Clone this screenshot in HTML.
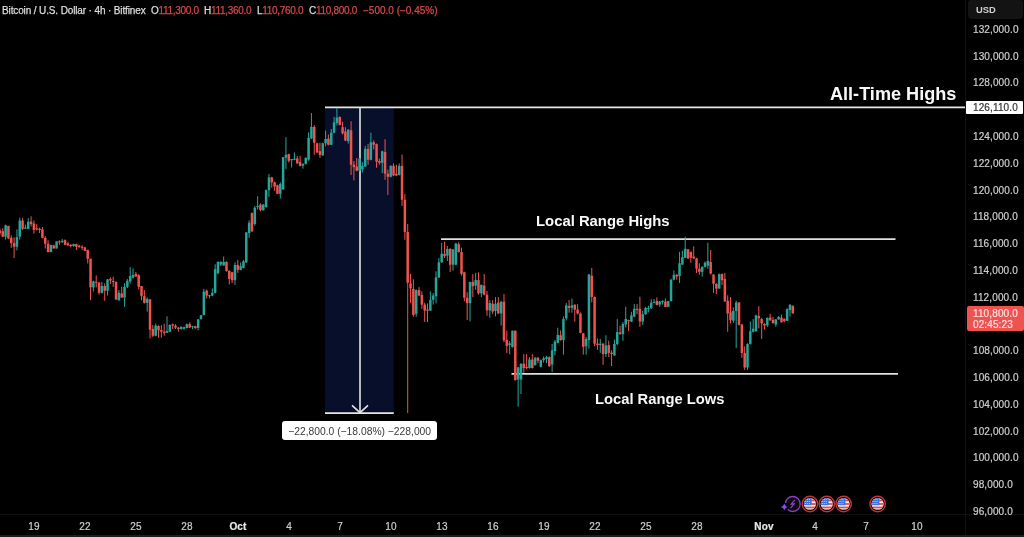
<!DOCTYPE html>
<html><head><meta charset="utf-8"><style>
*{margin:0;padding:0;box-sizing:border-box}
html,body{width:1024px;height:537px;overflow:hidden;background:#000}
body{position:relative;font-family:"Liberation Sans",sans-serif;color:#d1d4dc}
.abs{position:absolute}
.hdr,.pl,.tl,.big,.abs{will-change:transform}
.pl{position:absolute;left:973.2px;font-size:10px;line-height:12px;color:#cfcfcf;white-space:nowrap;letter-spacing:0.12px;-webkit-text-stroke:0.2px currentColor}
.tl{position:absolute;top:521px;width:40px;text-align:center;font-size:10px;line-height:12px;color:#cfcfcf;letter-spacing:0.15px;-webkit-text-stroke:0.2px currentColor}
.tl.b{font-weight:bold;color:#e8e8e8}
.hdr{position:absolute;top:4.8px;font-size:10px;line-height:12px;white-space:nowrap;letter-spacing:-0.3px;-webkit-text-stroke:0.25px currentColor;color:#dcdcdc}
.r{color:#d44848}
.big{position:absolute;font-weight:bold;color:#f8f8f8;white-space:nowrap}
</style></head><body>
<svg class="abs" style="left:0;top:0" width="1024" height="537" viewBox="0 0 1024 537">
<rect x="325" y="107.5" width="68.8" height="306" fill="#070f2a"/>
<line x1="325" y1="107.4" x2="965" y2="107.4" stroke="#e6e6e6" stroke-width="1.8"/>
<line x1="325" y1="413.2" x2="393.8" y2="413.2" stroke="#e6e6e6" stroke-width="1.8"/>
<line x1="360" y1="107.4" x2="360" y2="412.5" stroke="#d8d8d8" stroke-width="1.7"/>
<polyline points="352,405.4 360,412.6 368,405.4" fill="none" stroke="#e6e6e6" stroke-width="1.6"/>
<line x1="441" y1="239.1" x2="895.5" y2="239.1" stroke="#e0e0e0" stroke-width="1.8"/>
<line x1="511.5" y1="373.9" x2="898" y2="373.9" stroke="#e0e0e0" stroke-width="1.8"/>
<rect x="-0.56" y="228.5" width="1.0" height="6.5" fill="#ef5350"/>
<rect x="-1.31" y="230.6" width="2.5" height="2.4" fill="#ef5350"/>
<rect x="2.27" y="228.2" width="1.0" height="9.0" fill="#ef5350"/>
<rect x="1.52" y="231.2" width="2.5" height="5.4" fill="#ef5350"/>
<rect x="5.10" y="224.7" width="1.0" height="14.9" fill="#26a69a"/>
<rect x="4.35" y="225.3" width="2.5" height="11.3" fill="#26a69a"/>
<rect x="7.93" y="225.9" width="1.0" height="13.1" fill="#ef5350"/>
<rect x="7.18" y="225.9" width="2.5" height="12.5" fill="#ef5350"/>
<rect x="10.76" y="235.4" width="1.0" height="12.5" fill="#ef5350"/>
<rect x="10.01" y="237.8" width="2.5" height="5.3" fill="#ef5350"/>
<rect x="13.60" y="237.2" width="1.0" height="20.8" fill="#ef5350"/>
<rect x="12.85" y="243.1" width="2.5" height="3.6" fill="#ef5350"/>
<rect x="16.43" y="229.4" width="1.0" height="20.9" fill="#26a69a"/>
<rect x="15.68" y="237.2" width="2.5" height="9.5" fill="#26a69a"/>
<rect x="19.26" y="217.5" width="1.0" height="22.1" fill="#26a69a"/>
<rect x="18.51" y="220.5" width="2.5" height="16.1" fill="#26a69a"/>
<rect x="22.09" y="218.1" width="1.0" height="11.9" fill="#ef5350"/>
<rect x="21.34" y="220.5" width="2.5" height="8.3" fill="#ef5350"/>
<rect x="24.92" y="224.7" width="1.0" height="4.1" fill="#26a69a"/>
<rect x="24.17" y="227.6" width="2.5" height="1.2" fill="#26a69a"/>
<rect x="27.75" y="218.1" width="1.0" height="10.7" fill="#26a69a"/>
<rect x="27.00" y="221.7" width="2.5" height="7.1" fill="#26a69a"/>
<rect x="30.59" y="216.3" width="1.0" height="10.2" fill="#ef5350"/>
<rect x="29.84" y="221.7" width="2.5" height="2.4" fill="#ef5350"/>
<rect x="33.42" y="220.5" width="1.0" height="13.1" fill="#ef5350"/>
<rect x="32.67" y="223.5" width="2.5" height="6.5" fill="#ef5350"/>
<rect x="36.25" y="224.1" width="1.0" height="6.5" fill="#ef5350"/>
<rect x="35.50" y="228.2" width="2.5" height="1.2" fill="#ef5350"/>
<rect x="39.08" y="227.6" width="1.0" height="5.4" fill="#ef5350"/>
<rect x="38.33" y="228.8" width="2.5" height="1.2" fill="#ef5350"/>
<rect x="41.91" y="227.0" width="1.0" height="11.4" fill="#ef5350"/>
<rect x="41.16" y="229.4" width="2.5" height="8.4" fill="#ef5350"/>
<rect x="44.74" y="236.0" width="1.0" height="12.5" fill="#ef5350"/>
<rect x="43.99" y="237.8" width="2.5" height="5.9" fill="#ef5350"/>
<rect x="47.58" y="240.2" width="1.0" height="11.9" fill="#ef5350"/>
<rect x="46.83" y="243.7" width="2.5" height="8.4" fill="#ef5350"/>
<rect x="50.41" y="244.9" width="1.0" height="7.2" fill="#26a69a"/>
<rect x="49.66" y="244.9" width="2.5" height="7.2" fill="#26a69a"/>
<rect x="53.24" y="244.9" width="1.0" height="3.6" fill="#ef5350"/>
<rect x="52.49" y="245.5" width="2.5" height="3.0" fill="#ef5350"/>
<rect x="56.07" y="241.4" width="1.0" height="7.1" fill="#26a69a"/>
<rect x="55.32" y="241.4" width="2.5" height="7.1" fill="#26a69a"/>
<rect x="58.90" y="240.2" width="1.0" height="4.7" fill="#ef5350"/>
<rect x="58.15" y="241.4" width="2.5" height="1.1" fill="#ef5350"/>
<rect x="61.73" y="239.0" width="1.0" height="4.1" fill="#26a69a"/>
<rect x="60.98" y="240.8" width="2.5" height="1.2" fill="#26a69a"/>
<rect x="64.57" y="239.4" width="1.0" height="5.8" fill="#ef5350"/>
<rect x="63.82" y="240.1" width="2.5" height="4.7" fill="#ef5350"/>
<rect x="67.40" y="242.1" width="1.0" height="4.0" fill="#ef5350"/>
<rect x="66.65" y="243.4" width="2.5" height="1.8" fill="#ef5350"/>
<rect x="70.23" y="244.1" width="1.0" height="3.3" fill="#ef5350"/>
<rect x="69.48" y="244.8" width="2.5" height="1.3" fill="#ef5350"/>
<rect x="73.06" y="243.8" width="1.0" height="3.0" fill="#26a69a"/>
<rect x="72.31" y="244.1" width="2.5" height="2.0" fill="#26a69a"/>
<rect x="75.89" y="243.8" width="1.0" height="6.3" fill="#ef5350"/>
<rect x="75.14" y="244.1" width="2.5" height="2.7" fill="#ef5350"/>
<rect x="78.72" y="244.8" width="1.0" height="3.0" fill="#ef5350"/>
<rect x="77.97" y="245.7" width="2.5" height="1.3" fill="#ef5350"/>
<rect x="81.56" y="245.2" width="1.0" height="4.9" fill="#ef5350"/>
<rect x="80.81" y="246.8" width="2.5" height="1.0" fill="#ef5350"/>
<rect x="84.39" y="246.8" width="1.0" height="4.3" fill="#ef5350"/>
<rect x="83.64" y="247.4" width="2.5" height="3.4" fill="#ef5350"/>
<rect x="87.22" y="249.5" width="1.0" height="14.0" fill="#ef5350"/>
<rect x="86.47" y="250.1" width="2.5" height="8.7" fill="#ef5350"/>
<rect x="90.05" y="258.6" width="1.0" height="41.6" fill="#ef5350"/>
<rect x="89.30" y="258.8" width="2.5" height="28.6" fill="#ef5350"/>
<rect x="92.88" y="280.7" width="1.0" height="10.8" fill="#26a69a"/>
<rect x="92.13" y="281.4" width="2.5" height="6.0" fill="#26a69a"/>
<rect x="95.72" y="275.4" width="1.0" height="12.0" fill="#ef5350"/>
<rect x="94.97" y="281.8" width="2.5" height="1.0" fill="#ef5350"/>
<rect x="98.55" y="282.0" width="1.0" height="12.8" fill="#ef5350"/>
<rect x="97.80" y="282.7" width="2.5" height="10.1" fill="#ef5350"/>
<rect x="101.38" y="282.0" width="1.0" height="11.5" fill="#26a69a"/>
<rect x="100.63" y="286.0" width="2.5" height="6.8" fill="#26a69a"/>
<rect x="104.21" y="283.4" width="1.0" height="17.4" fill="#ef5350"/>
<rect x="103.46" y="286.0" width="2.5" height="4.8" fill="#ef5350"/>
<rect x="107.04" y="279.0" width="1.0" height="16.5" fill="#26a69a"/>
<rect x="106.29" y="279.4" width="2.5" height="11.4" fill="#26a69a"/>
<rect x="109.87" y="277.4" width="1.0" height="6.6" fill="#ef5350"/>
<rect x="109.12" y="279.0" width="2.5" height="1.5" fill="#ef5350"/>
<rect x="112.71" y="276.7" width="1.0" height="10.1" fill="#ef5350"/>
<rect x="111.96" y="281.0" width="2.5" height="1.0" fill="#ef5350"/>
<rect x="115.54" y="281.8" width="1.0" height="18.0" fill="#ef5350"/>
<rect x="114.79" y="281.8" width="2.5" height="17.7" fill="#ef5350"/>
<rect x="118.37" y="290.0" width="1.0" height="10.8" fill="#26a69a"/>
<rect x="117.62" y="292.8" width="2.5" height="7.4" fill="#26a69a"/>
<rect x="121.20" y="286.8" width="1.0" height="11.2" fill="#ef5350"/>
<rect x="120.45" y="293.5" width="2.5" height="4.0" fill="#ef5350"/>
<rect x="124.03" y="283.2" width="1.0" height="23.7" fill="#26a69a"/>
<rect x="123.28" y="286.8" width="2.5" height="10.7" fill="#26a69a"/>
<rect x="126.86" y="279.0" width="1.0" height="9.1" fill="#26a69a"/>
<rect x="126.11" y="280.7" width="2.5" height="6.1" fill="#26a69a"/>
<rect x="129.70" y="267.1" width="1.0" height="16.5" fill="#26a69a"/>
<rect x="128.95" y="276.0" width="2.5" height="5.4" fill="#26a69a"/>
<rect x="132.53" y="268.3" width="1.0" height="10.4" fill="#26a69a"/>
<rect x="131.78" y="275.0" width="2.5" height="2.5" fill="#26a69a"/>
<rect x="135.36" y="272.0" width="1.0" height="4.7" fill="#ef5350"/>
<rect x="134.61" y="274.0" width="2.5" height="2.5" fill="#ef5350"/>
<rect x="138.19" y="274.2" width="1.0" height="15.2" fill="#ef5350"/>
<rect x="137.44" y="275.2" width="2.5" height="11.6" fill="#ef5350"/>
<rect x="141.02" y="286.0" width="1.0" height="14.2" fill="#ef5350"/>
<rect x="140.27" y="286.1" width="2.5" height="10.0" fill="#ef5350"/>
<rect x="143.85" y="290.0" width="1.0" height="13.5" fill="#ef5350"/>
<rect x="143.10" y="296.1" width="2.5" height="6.8" fill="#ef5350"/>
<rect x="146.69" y="297.5" width="1.0" height="14.1" fill="#26a69a"/>
<rect x="145.94" y="298.8" width="2.5" height="4.1" fill="#26a69a"/>
<rect x="149.52" y="298.8" width="1.0" height="39.6" fill="#ef5350"/>
<rect x="148.77" y="299.5" width="2.5" height="30.2" fill="#ef5350"/>
<rect x="152.35" y="325.0" width="1.0" height="12.0" fill="#ef5350"/>
<rect x="151.60" y="329.0" width="2.5" height="6.7" fill="#ef5350"/>
<rect x="155.18" y="323.6" width="1.0" height="12.8" fill="#26a69a"/>
<rect x="154.43" y="325.6" width="2.5" height="10.1" fill="#26a69a"/>
<rect x="158.01" y="325.2" width="1.0" height="12.5" fill="#ef5350"/>
<rect x="157.26" y="326.0" width="2.5" height="4.3" fill="#ef5350"/>
<rect x="160.84" y="325.0" width="1.0" height="12.7" fill="#ef5350"/>
<rect x="160.09" y="330.0" width="2.5" height="1.7" fill="#ef5350"/>
<rect x="163.68" y="323.6" width="1.0" height="12.1" fill="#ef5350"/>
<rect x="162.93" y="331.7" width="2.5" height="1.3" fill="#ef5350"/>
<rect x="166.51" y="316.3" width="1.0" height="16.7" fill="#26a69a"/>
<rect x="165.76" y="331.0" width="2.5" height="1.8" fill="#26a69a"/>
<rect x="169.34" y="324.3" width="1.0" height="7.7" fill="#26a69a"/>
<rect x="168.59" y="325.0" width="2.5" height="6.7" fill="#26a69a"/>
<rect x="172.17" y="323.6" width="1.0" height="5.4" fill="#ef5350"/>
<rect x="171.42" y="324.3" width="2.5" height="1.3" fill="#ef5350"/>
<rect x="175.00" y="324.3" width="1.0" height="4.7" fill="#ef5350"/>
<rect x="174.25" y="325.6" width="2.5" height="2.1" fill="#ef5350"/>
<rect x="177.83" y="327.0" width="1.0" height="4.7" fill="#ef5350"/>
<rect x="177.08" y="327.7" width="2.5" height="1.3" fill="#ef5350"/>
<rect x="180.67" y="326.3" width="1.0" height="3.4" fill="#26a69a"/>
<rect x="179.92" y="327.0" width="2.5" height="2.0" fill="#26a69a"/>
<rect x="183.50" y="326.6" width="1.0" height="3.1" fill="#26a69a"/>
<rect x="182.75" y="327.2" width="2.5" height="1.6" fill="#26a69a"/>
<rect x="186.33" y="323.5" width="1.0" height="4.9" fill="#26a69a"/>
<rect x="185.58" y="324.3" width="2.5" height="3.7" fill="#26a69a"/>
<rect x="189.16" y="322.4" width="1.0" height="5.6" fill="#ef5350"/>
<rect x="188.41" y="324.1" width="2.5" height="3.4" fill="#ef5350"/>
<rect x="191.99" y="325.8" width="1.0" height="3.3" fill="#26a69a"/>
<rect x="191.24" y="326.2" width="2.5" height="1.0" fill="#26a69a"/>
<rect x="194.82" y="325.8" width="1.0" height="3.3" fill="#ef5350"/>
<rect x="194.07" y="326.3" width="2.5" height="1.7" fill="#ef5350"/>
<rect x="197.66" y="319.0" width="1.0" height="11.3" fill="#26a69a"/>
<rect x="196.91" y="319.4" width="2.5" height="8.6" fill="#26a69a"/>
<rect x="200.49" y="315.0" width="1.0" height="4.6" fill="#26a69a"/>
<rect x="199.74" y="315.2" width="2.5" height="3.9" fill="#26a69a"/>
<rect x="203.32" y="288.9" width="1.0" height="26.3" fill="#26a69a"/>
<rect x="202.57" y="291.7" width="2.5" height="23.5" fill="#26a69a"/>
<rect x="206.15" y="289.5" width="1.0" height="8.9" fill="#ef5350"/>
<rect x="205.40" y="290.6" width="2.5" height="5.0" fill="#ef5350"/>
<rect x="208.98" y="295.0" width="1.0" height="3.4" fill="#26a69a"/>
<rect x="208.23" y="295.2" width="2.5" height="1.0" fill="#26a69a"/>
<rect x="211.81" y="288.4" width="1.0" height="7.8" fill="#26a69a"/>
<rect x="211.06" y="292.8" width="2.5" height="2.8" fill="#26a69a"/>
<rect x="214.65" y="264.3" width="1.0" height="29.2" fill="#26a69a"/>
<rect x="213.90" y="269.2" width="2.5" height="23.6" fill="#26a69a"/>
<rect x="217.48" y="261.3" width="1.0" height="12.7" fill="#26a69a"/>
<rect x="216.73" y="261.9" width="2.5" height="11.5" fill="#26a69a"/>
<rect x="220.31" y="261.3" width="1.0" height="4.7" fill="#26a69a"/>
<rect x="219.56" y="261.9" width="2.5" height="2.6" fill="#26a69a"/>
<rect x="223.14" y="256.5" width="1.0" height="9.0" fill="#26a69a"/>
<rect x="222.39" y="261.9" width="2.5" height="3.6" fill="#26a69a"/>
<rect x="225.97" y="261.3" width="1.0" height="10.3" fill="#ef5350"/>
<rect x="225.22" y="261.9" width="2.5" height="9.1" fill="#ef5350"/>
<rect x="228.80" y="270.4" width="1.0" height="13.9" fill="#ef5350"/>
<rect x="228.05" y="270.8" width="2.5" height="8.1" fill="#ef5350"/>
<rect x="231.64" y="272.2" width="1.0" height="10.9" fill="#ef5350"/>
<rect x="230.89" y="272.2" width="2.5" height="7.9" fill="#ef5350"/>
<rect x="234.47" y="262.5" width="1.0" height="22.4" fill="#26a69a"/>
<rect x="233.72" y="265.0" width="2.5" height="15.1" fill="#26a69a"/>
<rect x="237.30" y="260.1" width="1.0" height="12.7" fill="#ef5350"/>
<rect x="236.55" y="265.0" width="2.5" height="4.8" fill="#ef5350"/>
<rect x="240.13" y="262.5" width="1.0" height="7.9" fill="#26a69a"/>
<rect x="239.38" y="266.2" width="2.5" height="3.6" fill="#26a69a"/>
<rect x="242.96" y="260.1" width="1.0" height="8.2" fill="#26a69a"/>
<rect x="242.21" y="261.3" width="2.5" height="6.7" fill="#26a69a"/>
<rect x="245.80" y="231.9" width="1.0" height="30.6" fill="#26a69a"/>
<rect x="245.05" y="232.5" width="2.5" height="30.0" fill="#26a69a"/>
<rect x="248.63" y="220.4" width="1.0" height="17.5" fill="#26a69a"/>
<rect x="247.88" y="222.8" width="2.5" height="10.3" fill="#26a69a"/>
<rect x="251.46" y="212.5" width="1.0" height="19.4" fill="#ef5350"/>
<rect x="250.71" y="213.1" width="2.5" height="18.2" fill="#ef5350"/>
<rect x="254.29" y="205.9" width="1.0" height="19.9" fill="#26a69a"/>
<rect x="253.54" y="207.7" width="2.5" height="16.3" fill="#26a69a"/>
<rect x="257.12" y="196.2" width="1.0" height="13.3" fill="#26a69a"/>
<rect x="256.37" y="205.9" width="2.5" height="1.2" fill="#26a69a"/>
<rect x="259.95" y="203.4" width="1.0" height="7.9" fill="#ef5350"/>
<rect x="259.20" y="204.7" width="2.5" height="5.4" fill="#ef5350"/>
<rect x="262.79" y="204.0" width="1.0" height="6.7" fill="#26a69a"/>
<rect x="262.04" y="204.7" width="2.5" height="5.4" fill="#26a69a"/>
<rect x="265.62" y="189.5" width="1.0" height="18.2" fill="#26a69a"/>
<rect x="264.87" y="190.1" width="2.5" height="17.0" fill="#26a69a"/>
<rect x="268.45" y="174.0" width="1.0" height="22.8" fill="#26a69a"/>
<rect x="267.70" y="177.4" width="2.5" height="12.7" fill="#26a69a"/>
<rect x="271.28" y="176.8" width="1.0" height="10.9" fill="#ef5350"/>
<rect x="270.53" y="177.4" width="2.5" height="4.9" fill="#ef5350"/>
<rect x="274.11" y="181.7" width="1.0" height="9.0" fill="#ef5350"/>
<rect x="273.36" y="182.3" width="2.5" height="4.2" fill="#ef5350"/>
<rect x="276.94" y="184.7" width="1.0" height="9.3" fill="#ef5350"/>
<rect x="276.19" y="185.3" width="2.5" height="8.5" fill="#ef5350"/>
<rect x="279.78" y="182.3" width="1.0" height="16.3" fill="#26a69a"/>
<rect x="279.03" y="184.1" width="2.5" height="9.7" fill="#26a69a"/>
<rect x="282.61" y="157.0" width="1.0" height="32.5" fill="#26a69a"/>
<rect x="281.86" y="157.2" width="2.5" height="32.3" fill="#26a69a"/>
<rect x="285.44" y="137.2" width="1.0" height="32.1" fill="#26a69a"/>
<rect x="284.69" y="154.8" width="2.5" height="3.0" fill="#26a69a"/>
<rect x="288.27" y="153.6" width="1.0" height="9.0" fill="#ef5350"/>
<rect x="287.52" y="154.2" width="2.5" height="6.6" fill="#ef5350"/>
<rect x="291.10" y="159.0" width="1.0" height="8.5" fill="#26a69a"/>
<rect x="290.35" y="159.0" width="2.5" height="1.2" fill="#26a69a"/>
<rect x="293.93" y="152.4" width="1.0" height="7.8" fill="#26a69a"/>
<rect x="293.18" y="158.7" width="2.5" height="1.2" fill="#26a69a"/>
<rect x="296.77" y="156.0" width="1.0" height="7.9" fill="#ef5350"/>
<rect x="296.02" y="158.4" width="2.5" height="4.9" fill="#ef5350"/>
<rect x="299.60" y="156.0" width="1.0" height="10.3" fill="#ef5350"/>
<rect x="298.85" y="162.0" width="2.5" height="3.9" fill="#ef5350"/>
<rect x="302.43" y="163.3" width="1.0" height="5.4" fill="#26a69a"/>
<rect x="301.68" y="163.9" width="2.5" height="1.8" fill="#26a69a"/>
<rect x="305.26" y="157.5" width="1.0" height="7.0" fill="#26a69a"/>
<rect x="304.51" y="157.8" width="2.5" height="6.1" fill="#26a69a"/>
<rect x="308.09" y="132.4" width="1.0" height="28.4" fill="#26a69a"/>
<rect x="307.34" y="137.8" width="2.5" height="21.8" fill="#26a69a"/>
<rect x="310.92" y="113.0" width="1.0" height="26.0" fill="#26a69a"/>
<rect x="310.17" y="126.9" width="2.5" height="11.5" fill="#26a69a"/>
<rect x="313.76" y="125.1" width="1.0" height="29.7" fill="#ef5350"/>
<rect x="313.01" y="126.9" width="2.5" height="15.8" fill="#ef5350"/>
<rect x="316.59" y="142.7" width="1.0" height="10.3" fill="#ef5350"/>
<rect x="315.84" y="143.3" width="2.5" height="9.1" fill="#ef5350"/>
<rect x="319.42" y="142.7" width="1.0" height="15.1" fill="#ef5350"/>
<rect x="318.67" y="151.2" width="2.5" height="3.6" fill="#ef5350"/>
<rect x="322.25" y="142.7" width="1.0" height="13.1" fill="#26a69a"/>
<rect x="321.50" y="143.3" width="2.5" height="12.1" fill="#26a69a"/>
<rect x="325.08" y="130.6" width="1.0" height="15.7" fill="#26a69a"/>
<rect x="324.33" y="139.0" width="2.5" height="4.3" fill="#26a69a"/>
<rect x="327.91" y="134.5" width="1.0" height="10.9" fill="#ef5350"/>
<rect x="327.16" y="138.7" width="2.5" height="6.1" fill="#ef5350"/>
<rect x="330.75" y="129.0" width="1.0" height="16.0" fill="#26a69a"/>
<rect x="330.00" y="132.7" width="2.5" height="12.1" fill="#26a69a"/>
<rect x="333.58" y="116.9" width="1.0" height="16.4" fill="#26a69a"/>
<rect x="332.83" y="122.4" width="2.5" height="10.3" fill="#26a69a"/>
<rect x="336.41" y="107.9" width="1.0" height="17.5" fill="#26a69a"/>
<rect x="335.66" y="117.6" width="2.5" height="5.4" fill="#26a69a"/>
<rect x="339.24" y="116.3" width="1.0" height="9.1" fill="#ef5350"/>
<rect x="338.49" y="117.0" width="2.5" height="7.8" fill="#ef5350"/>
<rect x="342.07" y="121.8" width="1.0" height="12.7" fill="#ef5350"/>
<rect x="341.32" y="127.2" width="2.5" height="6.1" fill="#ef5350"/>
<rect x="344.90" y="127.2" width="1.0" height="14.0" fill="#ef5350"/>
<rect x="344.15" y="131.5" width="2.5" height="9.0" fill="#ef5350"/>
<rect x="347.74" y="129.0" width="1.0" height="14.6" fill="#26a69a"/>
<rect x="346.99" y="129.7" width="2.5" height="11.5" fill="#26a69a"/>
<rect x="350.57" y="121.2" width="1.0" height="53.8" fill="#ef5350"/>
<rect x="349.82" y="130.3" width="2.5" height="34.4" fill="#ef5350"/>
<rect x="353.40" y="161.0" width="1.0" height="19.4" fill="#ef5350"/>
<rect x="352.65" y="164.7" width="2.5" height="2.4" fill="#ef5350"/>
<rect x="356.23" y="158.0" width="1.0" height="13.3" fill="#ef5350"/>
<rect x="355.48" y="166.5" width="2.5" height="4.2" fill="#ef5350"/>
<rect x="359.06" y="158.0" width="1.0" height="13.3" fill="#26a69a"/>
<rect x="358.31" y="158.6" width="2.5" height="12.1" fill="#26a69a"/>
<rect x="361.89" y="162.2" width="1.0" height="10.3" fill="#26a69a"/>
<rect x="361.14" y="165.9" width="2.5" height="3.6" fill="#26a69a"/>
<rect x="364.73" y="145.9" width="1.0" height="21.2" fill="#26a69a"/>
<rect x="363.98" y="148.9" width="2.5" height="17.6" fill="#26a69a"/>
<rect x="367.56" y="144.1" width="1.0" height="20.6" fill="#ef5350"/>
<rect x="366.81" y="148.9" width="2.5" height="10.9" fill="#ef5350"/>
<rect x="370.39" y="132.7" width="1.0" height="27.7" fill="#26a69a"/>
<rect x="369.64" y="142.3" width="2.5" height="17.5" fill="#26a69a"/>
<rect x="373.22" y="140.4" width="1.0" height="9.1" fill="#ef5350"/>
<rect x="372.47" y="142.3" width="2.5" height="2.4" fill="#ef5350"/>
<rect x="376.05" y="143.5" width="1.0" height="24.2" fill="#ef5350"/>
<rect x="375.30" y="144.1" width="2.5" height="17.5" fill="#ef5350"/>
<rect x="378.88" y="158.6" width="1.0" height="6.1" fill="#ef5350"/>
<rect x="378.13" y="161.0" width="2.5" height="1.8" fill="#ef5350"/>
<rect x="381.72" y="150.7" width="1.0" height="22.4" fill="#26a69a"/>
<rect x="380.97" y="151.3" width="2.5" height="11.5" fill="#26a69a"/>
<rect x="384.55" y="139.2" width="1.0" height="40.6" fill="#ef5350"/>
<rect x="383.80" y="151.9" width="2.5" height="21.8" fill="#ef5350"/>
<rect x="387.38" y="169.5" width="1.0" height="25.4" fill="#ef5350"/>
<rect x="386.63" y="173.7" width="2.5" height="3.1" fill="#ef5350"/>
<rect x="390.21" y="165.3" width="1.0" height="12.1" fill="#26a69a"/>
<rect x="389.46" y="165.9" width="2.5" height="10.9" fill="#26a69a"/>
<rect x="393.04" y="163.4" width="1.0" height="12.8" fill="#ef5350"/>
<rect x="392.29" y="165.9" width="2.5" height="9.6" fill="#ef5350"/>
<rect x="395.88" y="164.7" width="1.0" height="11.5" fill="#ef5350"/>
<rect x="395.13" y="173.7" width="2.5" height="1.8" fill="#ef5350"/>
<rect x="398.71" y="163.4" width="1.0" height="12.1" fill="#26a69a"/>
<rect x="397.96" y="165.9" width="2.5" height="9.0" fill="#26a69a"/>
<rect x="401.54" y="154.4" width="1.0" height="51.5" fill="#ef5350"/>
<rect x="400.79" y="165.9" width="2.5" height="33.9" fill="#ef5350"/>
<rect x="404.37" y="194.0" width="1.0" height="45.8" fill="#ef5350"/>
<rect x="403.62" y="199.8" width="2.5" height="32.1" fill="#ef5350"/>
<rect x="407.20" y="224.0" width="1.0" height="189.0" fill="#ef5350"/>
<rect x="406.45" y="231.9" width="2.5" height="50.9" fill="#ef5350"/>
<rect x="410.03" y="273.8" width="1.0" height="29.0" fill="#ef5350"/>
<rect x="409.28" y="283.4" width="2.5" height="4.9" fill="#ef5350"/>
<rect x="412.87" y="279.2" width="1.0" height="37.5" fill="#ef5350"/>
<rect x="412.12" y="288.9" width="2.5" height="26.0" fill="#ef5350"/>
<rect x="415.70" y="289.5" width="1.0" height="27.2" fill="#26a69a"/>
<rect x="414.95" y="290.1" width="2.5" height="23.6" fill="#26a69a"/>
<rect x="418.53" y="287.1" width="1.0" height="9.1" fill="#ef5350"/>
<rect x="417.78" y="290.1" width="2.5" height="5.4" fill="#ef5350"/>
<rect x="421.36" y="291.3" width="1.0" height="17.6" fill="#ef5350"/>
<rect x="420.61" y="295.0" width="2.5" height="9.6" fill="#ef5350"/>
<rect x="424.19" y="302.8" width="1.0" height="19.2" fill="#ef5350"/>
<rect x="423.44" y="304.6" width="2.5" height="6.1" fill="#ef5350"/>
<rect x="427.02" y="303.4" width="1.0" height="18.6" fill="#ef5350"/>
<rect x="426.27" y="309.5" width="2.5" height="1.2" fill="#ef5350"/>
<rect x="429.86" y="291.5" width="1.0" height="19.2" fill="#26a69a"/>
<rect x="429.11" y="299.8" width="2.5" height="10.9" fill="#26a69a"/>
<rect x="432.69" y="293.1" width="1.0" height="11.5" fill="#26a69a"/>
<rect x="431.94" y="295.5" width="2.5" height="4.3" fill="#26a69a"/>
<rect x="435.52" y="271.3" width="1.0" height="32.1" fill="#26a69a"/>
<rect x="434.77" y="277.4" width="2.5" height="18.8" fill="#26a69a"/>
<rect x="438.35" y="258.0" width="1.0" height="20.0" fill="#26a69a"/>
<rect x="437.60" y="262.3" width="2.5" height="15.1" fill="#26a69a"/>
<rect x="441.18" y="242.9" width="1.0" height="20.0" fill="#26a69a"/>
<rect x="440.43" y="253.8" width="2.5" height="8.5" fill="#26a69a"/>
<rect x="444.01" y="241.7" width="1.0" height="16.3" fill="#ef5350"/>
<rect x="443.26" y="253.8" width="2.5" height="2.4" fill="#ef5350"/>
<rect x="446.85" y="245.9" width="1.0" height="15.1" fill="#26a69a"/>
<rect x="446.10" y="248.9" width="2.5" height="6.7" fill="#26a69a"/>
<rect x="449.68" y="248.3" width="1.0" height="23.7" fill="#ef5350"/>
<rect x="448.93" y="248.9" width="2.5" height="15.8" fill="#ef5350"/>
<rect x="452.51" y="249.0" width="1.0" height="21.7" fill="#26a69a"/>
<rect x="451.76" y="249.5" width="2.5" height="15.2" fill="#26a69a"/>
<rect x="455.34" y="242.9" width="1.0" height="22.4" fill="#26a69a"/>
<rect x="454.59" y="243.5" width="2.5" height="21.2" fill="#26a69a"/>
<rect x="458.17" y="242.3" width="1.0" height="10.3" fill="#ef5350"/>
<rect x="457.42" y="244.1" width="2.5" height="7.9" fill="#ef5350"/>
<rect x="461.00" y="247.7" width="1.0" height="27.9" fill="#ef5350"/>
<rect x="460.25" y="252.0" width="2.5" height="21.8" fill="#ef5350"/>
<rect x="463.84" y="271.7" width="1.0" height="29.6" fill="#ef5350"/>
<rect x="463.09" y="272.3" width="2.5" height="25.4" fill="#ef5350"/>
<rect x="466.67" y="292.2" width="1.0" height="27.9" fill="#ef5350"/>
<rect x="465.92" y="297.7" width="2.5" height="5.4" fill="#ef5350"/>
<rect x="469.50" y="281.9" width="1.0" height="39.4" fill="#26a69a"/>
<rect x="468.75" y="281.9" width="2.5" height="21.2" fill="#26a69a"/>
<rect x="472.33" y="274.1" width="1.0" height="23.0" fill="#ef5350"/>
<rect x="471.58" y="281.9" width="2.5" height="4.3" fill="#ef5350"/>
<rect x="475.16" y="272.9" width="1.0" height="16.9" fill="#26a69a"/>
<rect x="474.41" y="280.1" width="2.5" height="5.5" fill="#26a69a"/>
<rect x="477.99" y="272.3" width="1.0" height="22.4" fill="#ef5350"/>
<rect x="477.24" y="280.1" width="2.5" height="13.3" fill="#ef5350"/>
<rect x="480.83" y="284.4" width="1.0" height="12.7" fill="#26a69a"/>
<rect x="480.08" y="285.0" width="2.5" height="8.4" fill="#26a69a"/>
<rect x="483.66" y="274.1" width="1.0" height="21.2" fill="#ef5350"/>
<rect x="482.91" y="285.6" width="2.5" height="9.1" fill="#ef5350"/>
<rect x="486.49" y="291.0" width="1.0" height="24.8" fill="#ef5350"/>
<rect x="485.74" y="294.7" width="2.5" height="15.7" fill="#ef5350"/>
<rect x="489.32" y="300.1" width="1.0" height="17.6" fill="#26a69a"/>
<rect x="488.57" y="303.1" width="2.5" height="7.3" fill="#26a69a"/>
<rect x="492.15" y="300.1" width="1.0" height="13.9" fill="#ef5350"/>
<rect x="491.40" y="303.7" width="2.5" height="7.9" fill="#ef5350"/>
<rect x="494.98" y="297.1" width="1.0" height="19.3" fill="#26a69a"/>
<rect x="494.23" y="303.7" width="2.5" height="7.3" fill="#26a69a"/>
<rect x="497.82" y="297.1" width="1.0" height="16.9" fill="#ef5350"/>
<rect x="497.07" y="302.5" width="2.5" height="10.9" fill="#ef5350"/>
<rect x="500.65" y="300.7" width="1.0" height="24.8" fill="#26a69a"/>
<rect x="499.90" y="301.9" width="2.5" height="11.5" fill="#26a69a"/>
<rect x="503.48" y="294.0" width="1.0" height="48.2" fill="#ef5350"/>
<rect x="502.73" y="301.7" width="2.5" height="38.7" fill="#ef5350"/>
<rect x="506.31" y="330.7" width="1.0" height="22.4" fill="#ef5350"/>
<rect x="505.56" y="339.8" width="2.5" height="6.0" fill="#ef5350"/>
<rect x="509.14" y="341.0" width="1.0" height="13.3" fill="#26a69a"/>
<rect x="508.39" y="343.4" width="2.5" height="1.8" fill="#26a69a"/>
<rect x="511.97" y="330.7" width="1.0" height="16.9" fill="#26a69a"/>
<rect x="511.22" y="330.7" width="2.5" height="16.3" fill="#26a69a"/>
<rect x="514.81" y="330.5" width="1.0" height="50.0" fill="#ef5350"/>
<rect x="514.06" y="330.7" width="2.5" height="49.4" fill="#ef5350"/>
<rect x="517.64" y="366.8" width="1.0" height="39.9" fill="#26a69a"/>
<rect x="516.89" y="367.4" width="2.5" height="12.1" fill="#26a69a"/>
<rect x="520.47" y="363.2" width="1.0" height="30.8" fill="#26a69a"/>
<rect x="519.72" y="363.8" width="2.5" height="15.7" fill="#26a69a"/>
<rect x="523.30" y="354.1" width="1.0" height="18.7" fill="#ef5350"/>
<rect x="522.55" y="363.8" width="2.5" height="4.2" fill="#ef5350"/>
<rect x="526.13" y="354.1" width="1.0" height="15.1" fill="#ef5350"/>
<rect x="525.38" y="366.8" width="2.5" height="1.2" fill="#ef5350"/>
<rect x="528.97" y="357.1" width="1.0" height="11.5" fill="#26a69a"/>
<rect x="528.22" y="359.5" width="2.5" height="8.5" fill="#26a69a"/>
<rect x="531.80" y="354.1" width="1.0" height="14.5" fill="#ef5350"/>
<rect x="531.05" y="359.5" width="2.5" height="8.5" fill="#ef5350"/>
<rect x="534.63" y="357.1" width="1.0" height="8.5" fill="#26a69a"/>
<rect x="533.88" y="357.7" width="2.5" height="7.3" fill="#26a69a"/>
<rect x="537.46" y="357.1" width="1.0" height="6.1" fill="#ef5350"/>
<rect x="536.71" y="357.7" width="2.5" height="3.0" fill="#ef5350"/>
<rect x="540.29" y="359.5" width="1.0" height="7.9" fill="#26a69a"/>
<rect x="539.54" y="360.1" width="2.5" height="6.7" fill="#26a69a"/>
<rect x="543.12" y="356.5" width="1.0" height="6.1" fill="#26a69a"/>
<rect x="542.37" y="358.3" width="2.5" height="1.8" fill="#26a69a"/>
<rect x="545.96" y="355.9" width="1.0" height="7.3" fill="#26a69a"/>
<rect x="545.21" y="357.1" width="2.5" height="1.8" fill="#26a69a"/>
<rect x="548.79" y="356.5" width="1.0" height="10.3" fill="#ef5350"/>
<rect x="548.04" y="357.1" width="2.5" height="9.1" fill="#ef5350"/>
<rect x="551.62" y="344.0" width="1.0" height="28.2" fill="#26a69a"/>
<rect x="550.87" y="350.4" width="2.5" height="14.0" fill="#26a69a"/>
<rect x="554.45" y="340.0" width="1.0" height="15.3" fill="#26a69a"/>
<rect x="553.70" y="341.6" width="2.5" height="9.4" fill="#26a69a"/>
<rect x="557.28" y="327.7" width="1.0" height="15.7" fill="#26a69a"/>
<rect x="556.53" y="335.0" width="2.5" height="7.8" fill="#26a69a"/>
<rect x="560.11" y="330.4" width="1.0" height="10.3" fill="#ef5350"/>
<rect x="559.36" y="335.3" width="2.5" height="4.8" fill="#ef5350"/>
<rect x="562.95" y="316.5" width="1.0" height="38.1" fill="#26a69a"/>
<rect x="562.20" y="318.9" width="2.5" height="21.2" fill="#26a69a"/>
<rect x="565.78" y="303.0" width="1.0" height="17.5" fill="#26a69a"/>
<rect x="565.03" y="305.4" width="2.5" height="12.9" fill="#26a69a"/>
<rect x="568.61" y="300.0" width="1.0" height="12.7" fill="#ef5350"/>
<rect x="567.86" y="306.0" width="2.5" height="1.8" fill="#ef5350"/>
<rect x="571.44" y="298.5" width="1.0" height="14.2" fill="#26a69a"/>
<rect x="570.69" y="305.4" width="2.5" height="2.4" fill="#26a69a"/>
<rect x="574.27" y="304.2" width="1.0" height="17.5" fill="#ef5350"/>
<rect x="573.52" y="304.8" width="2.5" height="4.8" fill="#ef5350"/>
<rect x="577.10" y="304.2" width="1.0" height="10.3" fill="#ef5350"/>
<rect x="576.35" y="309.6" width="2.5" height="3.9" fill="#ef5350"/>
<rect x="579.94" y="312.5" width="1.0" height="20.9" fill="#ef5350"/>
<rect x="579.19" y="313.5" width="2.5" height="19.3" fill="#ef5350"/>
<rect x="582.77" y="332.8" width="1.0" height="21.8" fill="#ef5350"/>
<rect x="582.02" y="333.4" width="2.5" height="13.4" fill="#ef5350"/>
<rect x="585.60" y="337.1" width="1.0" height="17.5" fill="#26a69a"/>
<rect x="584.85" y="338.9" width="2.5" height="7.3" fill="#26a69a"/>
<rect x="588.43" y="273.9" width="1.0" height="74.7" fill="#26a69a"/>
<rect x="587.68" y="274.5" width="2.5" height="65.6" fill="#26a69a"/>
<rect x="591.26" y="267.9" width="1.0" height="34.5" fill="#ef5350"/>
<rect x="590.51" y="275.7" width="2.5" height="21.2" fill="#ef5350"/>
<rect x="594.09" y="296.5" width="1.0" height="49.7" fill="#ef5350"/>
<rect x="593.34" y="296.9" width="2.5" height="46.8" fill="#ef5350"/>
<rect x="596.93" y="338.3" width="1.0" height="11.5" fill="#ef5350"/>
<rect x="596.18" y="343.5" width="2.5" height="1.5" fill="#ef5350"/>
<rect x="599.76" y="338.9" width="1.0" height="13.9" fill="#26a69a"/>
<rect x="599.01" y="343.7" width="2.5" height="1.3" fill="#26a69a"/>
<rect x="602.59" y="343.1" width="1.0" height="21.8" fill="#ef5350"/>
<rect x="601.84" y="343.7" width="2.5" height="10.3" fill="#ef5350"/>
<rect x="605.42" y="335.3" width="1.0" height="21.7" fill="#26a69a"/>
<rect x="604.67" y="345.5" width="2.5" height="8.5" fill="#26a69a"/>
<rect x="608.25" y="340.6" width="1.0" height="16.4" fill="#ef5350"/>
<rect x="607.50" y="345.1" width="2.5" height="7.8" fill="#ef5350"/>
<rect x="611.08" y="350.3" width="1.0" height="15.7" fill="#ef5350"/>
<rect x="610.33" y="352.6" width="2.5" height="1.4" fill="#ef5350"/>
<rect x="613.92" y="339.5" width="1.0" height="16.0" fill="#26a69a"/>
<rect x="613.17" y="344.0" width="2.5" height="11.5" fill="#26a69a"/>
<rect x="616.75" y="319.0" width="1.0" height="26.1" fill="#26a69a"/>
<rect x="616.00" y="332.1" width="2.5" height="11.9" fill="#26a69a"/>
<rect x="619.58" y="325.7" width="1.0" height="9.1" fill="#ef5350"/>
<rect x="618.83" y="332.4" width="2.5" height="1.6" fill="#ef5350"/>
<rect x="622.41" y="322.1" width="1.0" height="18.7" fill="#26a69a"/>
<rect x="621.66" y="323.9" width="2.5" height="10.3" fill="#26a69a"/>
<rect x="625.24" y="306.9" width="1.0" height="20.6" fill="#26a69a"/>
<rect x="624.49" y="319.0" width="2.5" height="5.5" fill="#26a69a"/>
<rect x="628.07" y="319.7" width="1.0" height="11.5" fill="#ef5350"/>
<rect x="627.32" y="320.0" width="2.5" height="1.2" fill="#ef5350"/>
<rect x="630.91" y="311.8" width="1.0" height="10.3" fill="#26a69a"/>
<rect x="630.16" y="315.4" width="2.5" height="6.3" fill="#26a69a"/>
<rect x="633.74" y="303.9" width="1.0" height="13.3" fill="#26a69a"/>
<rect x="632.99" y="308.8" width="2.5" height="7.8" fill="#26a69a"/>
<rect x="636.57" y="303.9" width="1.0" height="10.3" fill="#ef5350"/>
<rect x="635.82" y="308.8" width="2.5" height="1.2" fill="#ef5350"/>
<rect x="639.40" y="296.7" width="1.0" height="30.2" fill="#ef5350"/>
<rect x="638.65" y="308.8" width="2.5" height="12.7" fill="#ef5350"/>
<rect x="642.23" y="310.6" width="1.0" height="14.5" fill="#26a69a"/>
<rect x="641.48" y="314.2" width="2.5" height="7.3" fill="#26a69a"/>
<rect x="645.06" y="306.9" width="1.0" height="7.9" fill="#26a69a"/>
<rect x="644.31" y="307.9" width="2.5" height="6.3" fill="#26a69a"/>
<rect x="647.90" y="305.7" width="1.0" height="6.7" fill="#26a69a"/>
<rect x="647.15" y="307.9" width="2.5" height="1.0" fill="#26a69a"/>
<rect x="650.73" y="299.1" width="1.0" height="9.7" fill="#26a69a"/>
<rect x="649.98" y="302.7" width="2.5" height="5.5" fill="#26a69a"/>
<rect x="653.56" y="299.1" width="1.0" height="4.2" fill="#26a69a"/>
<rect x="652.81" y="301.8" width="2.5" height="1.0" fill="#26a69a"/>
<rect x="656.39" y="297.3" width="1.0" height="7.8" fill="#ef5350"/>
<rect x="655.64" y="300.9" width="2.5" height="4.2" fill="#ef5350"/>
<rect x="659.22" y="300.9" width="1.0" height="6.0" fill="#26a69a"/>
<rect x="658.47" y="301.5" width="2.5" height="3.0" fill="#26a69a"/>
<rect x="662.06" y="300.3" width="1.0" height="4.2" fill="#26a69a"/>
<rect x="661.31" y="300.9" width="2.5" height="1.2" fill="#26a69a"/>
<rect x="664.89" y="298.4" width="1.0" height="8.5" fill="#ef5350"/>
<rect x="664.14" y="301.5" width="2.5" height="5.4" fill="#ef5350"/>
<rect x="667.72" y="300.9" width="1.0" height="6.0" fill="#26a69a"/>
<rect x="666.97" y="301.2" width="2.5" height="5.7" fill="#26a69a"/>
<rect x="670.55" y="278.8" width="1.0" height="22.4" fill="#26a69a"/>
<rect x="669.80" y="279.7" width="2.5" height="21.5" fill="#26a69a"/>
<rect x="673.38" y="270.5" width="1.0" height="9.8" fill="#26a69a"/>
<rect x="672.63" y="274.8" width="2.5" height="4.9" fill="#26a69a"/>
<rect x="676.21" y="274.2" width="1.0" height="5.4" fill="#ef5350"/>
<rect x="675.46" y="274.8" width="2.5" height="1.8" fill="#ef5350"/>
<rect x="679.05" y="251.8" width="1.0" height="31.2" fill="#26a69a"/>
<rect x="678.30" y="263.3" width="2.5" height="12.7" fill="#26a69a"/>
<rect x="681.88" y="250.6" width="1.0" height="14.5" fill="#26a69a"/>
<rect x="681.13" y="257.2" width="2.5" height="7.3" fill="#26a69a"/>
<rect x="684.71" y="236.7" width="1.0" height="21.1" fill="#26a69a"/>
<rect x="683.96" y="248.8" width="2.5" height="9.0" fill="#26a69a"/>
<rect x="687.54" y="248.8" width="1.0" height="10.2" fill="#ef5350"/>
<rect x="686.79" y="249.4" width="2.5" height="9.0" fill="#ef5350"/>
<rect x="690.37" y="251.8" width="1.0" height="10.9" fill="#ef5350"/>
<rect x="689.62" y="251.8" width="2.5" height="6.0" fill="#ef5350"/>
<rect x="693.20" y="246.3" width="1.0" height="12.7" fill="#ef5350"/>
<rect x="692.45" y="256.6" width="2.5" height="1.8" fill="#ef5350"/>
<rect x="696.04" y="257.8" width="1.0" height="15.2" fill="#ef5350"/>
<rect x="695.29" y="258.4" width="2.5" height="10.3" fill="#ef5350"/>
<rect x="698.87" y="263.3" width="1.0" height="11.5" fill="#ef5350"/>
<rect x="698.12" y="268.7" width="2.5" height="3.1" fill="#ef5350"/>
<rect x="701.70" y="266.3" width="1.0" height="10.3" fill="#26a69a"/>
<rect x="700.95" y="266.9" width="2.5" height="4.9" fill="#26a69a"/>
<rect x="704.53" y="261.5" width="1.0" height="6.0" fill="#26a69a"/>
<rect x="703.78" y="262.7" width="2.5" height="4.2" fill="#26a69a"/>
<rect x="707.36" y="242.7" width="1.0" height="26.0" fill="#26a69a"/>
<rect x="706.61" y="260.9" width="2.5" height="4.8" fill="#26a69a"/>
<rect x="710.19" y="250.0" width="1.0" height="24.5" fill="#ef5350"/>
<rect x="709.44" y="262.1" width="2.5" height="11.5" fill="#ef5350"/>
<rect x="713.03" y="274.1" width="1.0" height="18.7" fill="#ef5350"/>
<rect x="712.28" y="274.7" width="2.5" height="9.1" fill="#ef5350"/>
<rect x="715.86" y="283.2" width="1.0" height="10.8" fill="#ef5350"/>
<rect x="715.11" y="283.8" width="2.5" height="4.8" fill="#ef5350"/>
<rect x="718.69" y="273.5" width="1.0" height="15.1" fill="#26a69a"/>
<rect x="717.94" y="274.1" width="2.5" height="14.5" fill="#26a69a"/>
<rect x="721.52" y="273.5" width="1.0" height="11.5" fill="#ef5350"/>
<rect x="720.77" y="274.1" width="2.5" height="6.0" fill="#ef5350"/>
<rect x="724.35" y="272.9" width="1.0" height="29.0" fill="#ef5350"/>
<rect x="723.60" y="278.9" width="2.5" height="22.4" fill="#ef5350"/>
<rect x="727.18" y="295.3" width="1.0" height="36.5" fill="#ef5350"/>
<rect x="726.43" y="300.7" width="2.5" height="12.7" fill="#ef5350"/>
<rect x="730.02" y="297.1" width="1.0" height="26.4" fill="#ef5350"/>
<rect x="729.27" y="312.2" width="2.5" height="7.9" fill="#ef5350"/>
<rect x="732.85" y="307.4" width="1.0" height="15.6" fill="#26a69a"/>
<rect x="732.10" y="311.0" width="2.5" height="9.7" fill="#26a69a"/>
<rect x="735.68" y="300.7" width="1.0" height="47.4" fill="#26a69a"/>
<rect x="734.93" y="302.5" width="2.5" height="8.5" fill="#26a69a"/>
<rect x="738.51" y="302.0" width="1.0" height="23.5" fill="#ef5350"/>
<rect x="737.76" y="302.5" width="2.5" height="22.4" fill="#ef5350"/>
<rect x="741.34" y="323.9" width="1.0" height="33.9" fill="#ef5350"/>
<rect x="740.59" y="324.5" width="2.5" height="28.5" fill="#ef5350"/>
<rect x="744.17" y="346.3" width="1.0" height="23.6" fill="#ef5350"/>
<rect x="743.42" y="353.0" width="2.5" height="14.5" fill="#ef5350"/>
<rect x="747.01" y="343.3" width="1.0" height="26.6" fill="#26a69a"/>
<rect x="746.26" y="343.9" width="2.5" height="23.6" fill="#26a69a"/>
<rect x="749.84" y="321.5" width="1.0" height="23.0" fill="#26a69a"/>
<rect x="749.09" y="331.2" width="2.5" height="12.7" fill="#26a69a"/>
<rect x="752.67" y="319.1" width="1.0" height="13.3" fill="#26a69a"/>
<rect x="751.92" y="328.8" width="2.5" height="3.0" fill="#26a69a"/>
<rect x="755.50" y="314.6" width="1.0" height="17.2" fill="#26a69a"/>
<rect x="754.75" y="315.4" width="2.5" height="15.8" fill="#26a69a"/>
<rect x="758.33" y="306.2" width="1.0" height="22.2" fill="#ef5350"/>
<rect x="757.58" y="316.0" width="2.5" height="2.3" fill="#ef5350"/>
<rect x="761.16" y="317.9" width="1.0" height="21.1" fill="#ef5350"/>
<rect x="760.41" y="319.1" width="2.5" height="4.4" fill="#ef5350"/>
<rect x="764.00" y="323.3" width="1.0" height="6.1" fill="#ef5350"/>
<rect x="763.25" y="323.9" width="2.5" height="1.7" fill="#ef5350"/>
<rect x="766.83" y="317.5" width="1.0" height="9.5" fill="#26a69a"/>
<rect x="766.08" y="317.9" width="2.5" height="7.4" fill="#26a69a"/>
<rect x="769.66" y="313.8" width="1.0" height="7.0" fill="#ef5350"/>
<rect x="768.91" y="317.5" width="2.5" height="2.8" fill="#ef5350"/>
<rect x="772.49" y="317.0" width="1.0" height="6.7" fill="#ef5350"/>
<rect x="771.74" y="319.8" width="2.5" height="3.3" fill="#ef5350"/>
<rect x="775.32" y="318.9" width="1.0" height="7.9" fill="#26a69a"/>
<rect x="774.57" y="319.4" width="2.5" height="5.1" fill="#26a69a"/>
<rect x="778.15" y="316.1" width="1.0" height="3.7" fill="#26a69a"/>
<rect x="777.40" y="317.0" width="2.5" height="2.4" fill="#26a69a"/>
<rect x="780.99" y="314.7" width="1.0" height="7.9" fill="#ef5350"/>
<rect x="780.24" y="317.5" width="2.5" height="4.7" fill="#ef5350"/>
<rect x="783.82" y="318.4" width="1.0" height="3.8" fill="#ef5350"/>
<rect x="783.07" y="318.9" width="2.5" height="2.3" fill="#ef5350"/>
<rect x="786.65" y="308.2" width="1.0" height="13.0" fill="#26a69a"/>
<rect x="785.90" y="309.1" width="2.5" height="11.7" fill="#26a69a"/>
<rect x="789.48" y="304.0" width="1.0" height="12.6" fill="#26a69a"/>
<rect x="788.73" y="304.9" width="2.5" height="5.1" fill="#26a69a"/>
<rect x="792.31" y="305.4" width="1.0" height="8.4" fill="#ef5350"/>
<rect x="791.56" y="305.8" width="2.5" height="7.5" fill="#ef5350"/>
<line x1="965.5" y1="0" x2="965.5" y2="535" stroke="#0e1212" stroke-width="1"/>
<line x1="0" y1="514.5" x2="1024" y2="514.5" stroke="#0e1212" stroke-width="1"/>
<rect x="0" y="535" width="1024" height="2" fill="#1e1e1e"/>
<defs>
<clipPath id="fc"><circle cx="0" cy="0" r="6.1"/></clipPath>
<g id="flag">
<circle cx="0" cy="0" r="7.7" fill="none" stroke="#c23535" stroke-width="1.4"/>
<g clip-path="url(#fc)">
<rect x="-7" y="-7" width="14" height="14" fill="#f2f2f2"/>
<rect x="-7" y="-4.4" width="14" height="1.75" fill="#e84848"/>
<rect x="-7" y="-0.9" width="14" height="1.75" fill="#e84848"/>
<rect x="-7" y="2.6" width="14" height="1.75" fill="#e84848"/>
<rect x="-7" y="5.2" width="14" height="2" fill="#e84848"/>
<rect x="-7" y="-7" width="8.8" height="8.2" fill="#3b74dc"/>
<g fill="#dfe8fb">
<circle cx="-4.6" cy="-4.6" r="0.5"/><circle cx="-2.6" cy="-4.6" r="0.5"/><circle cx="-0.6" cy="-4.6" r="0.5"/>
<circle cx="-4.6" cy="-2.6" r="0.5"/><circle cx="-2.6" cy="-2.6" r="0.5"/><circle cx="-0.6" cy="-2.6" r="0.5"/>
<circle cx="-4.6" cy="-0.6" r="0.5"/><circle cx="-2.6" cy="-0.6" r="0.5"/><circle cx="-0.6" cy="-0.6" r="0.5"/>
</g>
</g>
</g>
</defs>
<g transform="translate(792.7,504)">
<circle cx="0" cy="0" r="7.5" fill="#0c0c0c" stroke="#8e3cc8" stroke-width="1.3"/>
<polyline points="2.2,-4.2 -1.8,0.3 1.8,-0.3 -2.2,4.2" fill="none" stroke="#8e3cc8" stroke-width="1.2" stroke-linejoin="round"/>
</g>
<circle cx="784.3" cy="507" r="4.3" fill="#000"/>
<path transform="translate(784.3,507)" d="M0,-3.4 Q0.7,-0.7 3.4,0 Q0.7,0.7 0,3.4 Q-0.7,0.7 -3.4,0 Q-0.7,-0.7 0,-3.4Z" fill="#8c4cf0"/>
<use href="#flag" x="809.9" y="504"/>
<use href="#flag" x="826.8" y="504"/>
<use href="#flag" x="843.6" y="504"/>
<use href="#flag" x="877.6" y="504"/>

</svg>
<div class="hdr" style="left:2px;letter-spacing:-0.13px">Bitcoin / U.S. Dollar · 4h · Bitfinex</div>
<div class="hdr" style="left:150.7px">O<span class="r">111,300.0</span></div>
<div class="hdr" style="left:203.7px">H<span class="r">111,360.0</span></div>
<div class="hdr" style="left:257px">L<span class="r">110,760.0</span></div>
<div class="hdr" style="left:308.7px">C<span class="r">110,800.0</span></div>
<div class="hdr r" style="left:363px;letter-spacing:0px">−500.0 (−0.45%)</div>
<div class="big" style="left:830.2px;top:84.3px;font-size:18.1px;line-height:20px">All-Time Highs</div>
<div class="big" style="left:536px;top:212.5px;font-size:14.85px;line-height:17px">Local Range Highs</div>
<div class="big" style="left:595.2px;top:391.2px;font-size:14.75px;line-height:17px">Local Range Lows</div>
<div class="abs" style="left:282px;top:421.3px;width:155.3px;height:18.5px;background:#fff;border-radius:3px;color:#3a3a3a;font-size:10.3px;line-height:21px;text-align:center;white-space:nowrap">−22,800.0 (−18.08%) −228,000</div>
<div class="abs" style="left:968px;top:0;width:55px;height:19px;background:#131313;border-radius:3px 3px 4px 4px"></div>
<div class="abs" style="left:975.5px;top:4px;font-size:9.4px;line-height:12px;font-weight:bold;color:#d0d0d0">USD</div>
<div class="pl" style="top:23.8px">132,000.0</div>
<div class="pl" style="top:50.6px">130,000.0</div>
<div class="pl" style="top:77.4px">128,000.0</div>
<div class="pl" style="top:130.9px">124,000.0</div>
<div class="pl" style="top:157.7px">122,000.0</div>
<div class="pl" style="top:184.5px">120,000.0</div>
<div class="pl" style="top:211.2px">118,000.0</div>
<div class="pl" style="top:238.0px">116,000.0</div>
<div class="pl" style="top:264.8px">114,000.0</div>
<div class="pl" style="top:291.6px">112,000.0</div>
<div class="pl" style="top:345.1px">108,000.0</div>
<div class="pl" style="top:371.9px">106,000.0</div>
<div class="pl" style="top:398.7px">104,000.0</div>
<div class="pl" style="top:425.5px">102,000.0</div>
<div class="pl" style="top:452.2px">100,000.0</div>
<div class="pl" style="top:479.0px">98,000.0</div>
<div class="pl" style="top:505.8px">96,000.0</div>
<div class="abs" style="left:966px;top:101px;width:57px;height:13px;background:#fff;border-radius:1px"></div>
<div class="pl" style="top:101.5px;color:#333">126,110.0</div>
<div class="abs" style="left:966.5px;top:306px;width:56.5px;height:24.6px;background:#ef5350;border-radius:2px"></div>
<div class="pl" style="top:308px;color:#fde0e0">110,800.0</div>
<div class="pl" style="top:319.2px;color:#fde0e0">02:45:23</div>
<div class="tl" style="left:14.1px">19</div>
<div class="tl" style="left:65.0px">22</div>
<div class="tl" style="left:115.9px">25</div>
<div class="tl" style="left:166.9px">28</div>
<div class="tl b" style="left:217.9px">Oct</div>
<div class="tl" style="left:269.0px">4</div>
<div class="tl" style="left:320.0px">7</div>
<div class="tl" style="left:371.0px">10</div>
<div class="tl" style="left:422.0px">13</div>
<div class="tl" style="left:473.0px">16</div>
<div class="tl" style="left:524.0px">19</div>
<div class="tl" style="left:575.0px">22</div>
<div class="tl" style="left:626.0px">25</div>
<div class="tl" style="left:677.0px">28</div>
<div class="tl b" style="left:744.0px">Nov</div>
<div class="tl" style="left:795.0px">4</div>
<div class="tl" style="left:846.0px">7</div>
<div class="tl" style="left:897.0px">10</div>
</body></html>
